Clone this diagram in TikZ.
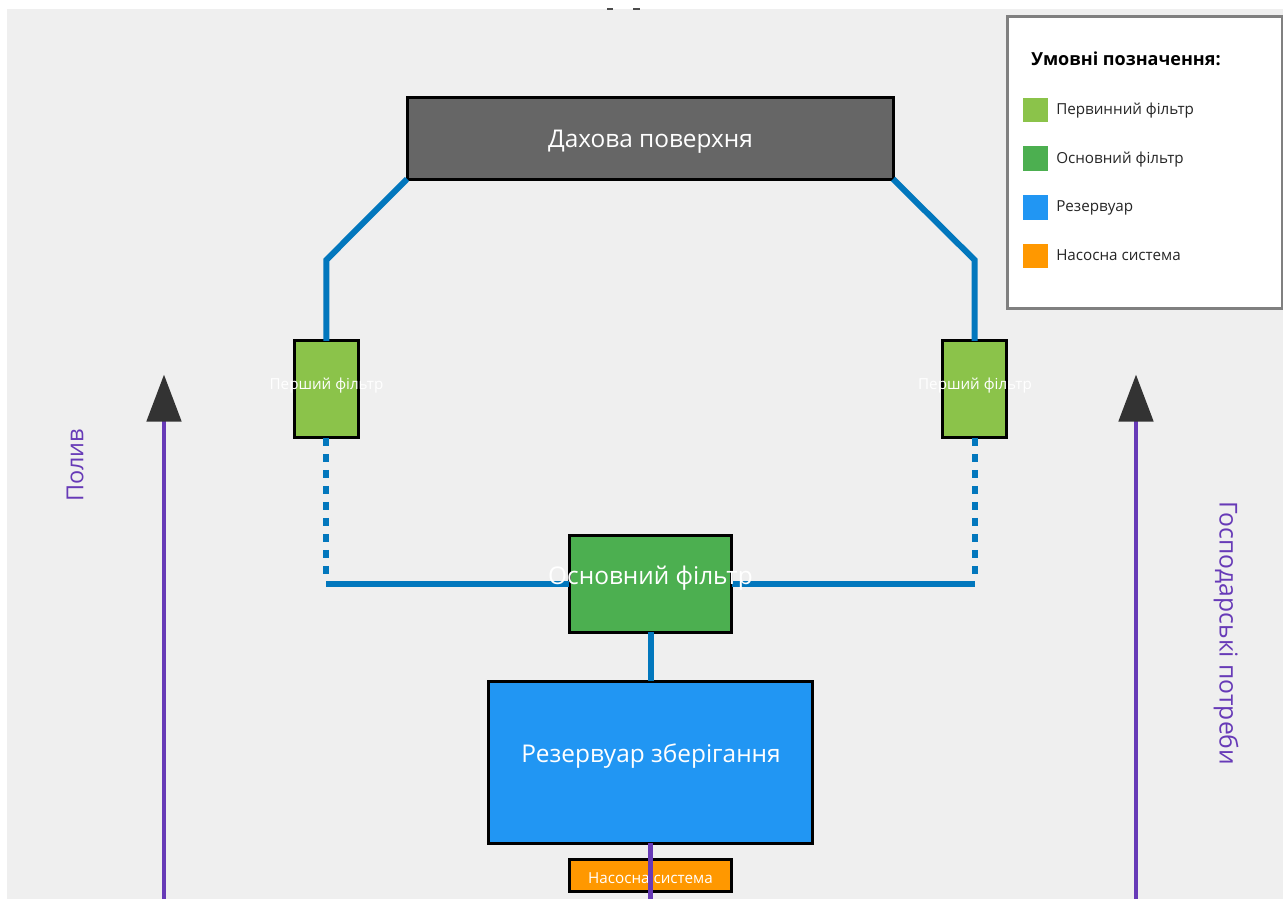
\documentclass[tikz,border=0pt]{standalone}
\usepackage{fontspec}
\setmainfont{Open Sans}
\usetikzlibrary{arrows.meta}
\definecolor{panelbg}{HTML}{EFEFEF}
\definecolor{roofc}{HTML}{666666}
\definecolor{prefilt}{HTML}{8BC34A}
\definecolor{mainfilt}{HTML}{4CAF50}
\definecolor{tankc}{HTML}{2196F3}
\definecolor{pumpc}{HTML}{FF9800}
\definecolor{pipec}{HTML}{0277BD}
\definecolor{usec}{HTML}{673AB7}
\definecolor{headc}{HTML}{333333}
\definecolor{legline}{HTML}{808080}
\tikzset{
  unitbox/.style={draw=black,line width=2.25pt,inner sep=0pt,outer sep=0pt},
  swatch/.style={inner sep=0pt,outer sep=0pt,minimum width=18.3pt,minimum height=18.3pt},
  pipe/.style={draw=pipec,line width=4.5pt},
  pipedots/.style={pipe,dash pattern=on 6pt off 6pt},
  usepipe/.style={draw=usec,line width=3.6pt},
  usearrow/.style={usepipe,-{Triangle[length=35.25pt,width=25.5pt,color=headc]}},
  boxlabel/.style={text=white,inner sep=0pt},
  leglabel/.style={anchor=base west,inner sep=0pt,text=black!85,font=\fontsize{11.4}{13}\selectfont}
}
\begin{document}
\begin{tikzpicture}[x=.75pt,y=-.75pt]
\useasboundingbox (0,0) rectangle (1283,899);
\fill[white] (0,0) rectangle (1283,899);
\fill[panelbg] (7,9) rectangle (1283,899);
\fill[black!70] (607,8) rectangle (613,10.5);
\fill[black!70] (633,8) rectangle (640,10.5);

% free points of the connectors
\coordinate (bendL) at (326.3,260);
\coordinate (bendR) at (974.6,260);
\coordinate (dotEndL) at (326.3,576);
\coordinate (dotEndR) at (974.6,576);
\coordinate (joinL) at (326.3,583.7);
\coordinate (joinR) at (974.6,583.7);
\coordinate (useLstart) at (164,899);
\coordinate (useLtip) at (164,374.5);
\coordinate (useRstart) at (1136,899);
\coordinate (useRtip) at (1136,374.5);
\coordinate (useMend) at (650.6,899);

% unit boxes
\node[unitbox,fill=roofc,minimum width=364.5pt,minimum height=60.75pt] (roof) at (650,138.5) {};
\node[unitbox,fill=prefilt,minimum width=48.4pt,minimum height=72.8pt] (filtL) at (326.3,389.3) {};
\node[unitbox,fill=prefilt,minimum width=48.4pt,minimum height=72.8pt] (filtR) at (974.6,389.3) {};
\node[unitbox,fill=mainfilt,minimum width=121.7pt,minimum height=72.8pt] (mainF) at (650.6,583.7) {};
\node[unitbox,fill=tankc,minimum width=243.5pt,minimum height=121.5pt] (tank) at (650.6,762) {};
\node[unitbox,fill=pumpc,minimum width=121.7pt,minimum height=24pt] (pump) at (650.6,875) {};

% pipes
\draw[pipe,line join=miter] (roof.south west) -- (bendL) -- (filtL.north);
\draw[pipe,line join=miter] (roof.south east) -- (bendR) -- (filtR.north);
\draw[pipedots] (filtL.south) -- (dotEndL);
\draw[pipedots] (filtR.south) -- (dotEndR);
\draw[pipe] (joinL) -- (mainF.west);
\draw[pipe] (joinR) -- (mainF.east);
\draw[pipe] (mainF.south) -- (tank.north);

% box labels
\node[boxlabel,font=\fontsize{18.3}{21}\selectfont] (roofT) at (650.5,141.5) {Дахова поверхня};
\node[boxlabel,font=\fontsize{11.4}{13}\selectfont] (filtLT) at (326.5,385.5) {Перший фільтр};
\node[boxlabel,font=\fontsize{11.4}{13}\selectfont] (filtRT) at (975,385.5) {Перший фільтр};
\node[boxlabel,font=\fontsize{18.3}{21}\selectfont] (mainT) at (650.5,578) {Основний фільтр};
\node[boxlabel,font=\fontsize{18.3}{21}\selectfont] (tankT) at (651,756) {Резервуар зберігання};
\node[boxlabel,font=\fontsize{11.4}{13}\selectfont] (pumpT) at (650.5,878.5) {Насосна система};

% outgoing use lines
\draw[usearrow] (useLstart) -- (useLtip);
\draw[usearrow] (useRstart) -- (useRtip);
\draw[usepipe] (tank.south) -- (useMend);
\node[text=usec,inner sep=0pt,rotate=90,font=\fontsize{17.6}{20}\selectfont] (useLT) at (75,465.5) {Полив};
\node[text=usec,inner sep=0pt,rotate=-90,font=\fontsize{18.5}{21}\selectfont] (useRT) at (1226,633.5) {Господарські потреби};

% legend
\node[draw=legline,line width=2.25pt,fill=white,inner sep=0pt,outer sep=0pt,minimum width=206.25pt,minimum height=218.25pt] (legend) at (1144.5,162.5) {};
\node[anchor=base west,inner sep=0pt,text=black,font=\bfseries\fontsize{13.5}{16}\selectfont] (legT) at (1031,65.5) {Умовні позначення:};
\node[swatch,fill=prefilt] (sw1) at (1035.5,110) {};
\node[swatch,fill=mainfilt] (sw2) at (1035.5,158.6) {};
\node[swatch,fill=tankc] (sw3) at (1035.5,207.3) {};
\node[swatch,fill=pumpc] (sw4) at (1035.5,256) {};
\node[leglabel] (lb1) at (1056,115) {Первинний фільтр};
\node[leglabel] (lb2) at (1056,163.3) {Основний фільтр};
\node[leglabel] (lb3) at (1056,211.7) {Резервуар};
\node[leglabel] (lb4) at (1056,260) {Насосна система};
\end{tikzpicture}
\end{document}
